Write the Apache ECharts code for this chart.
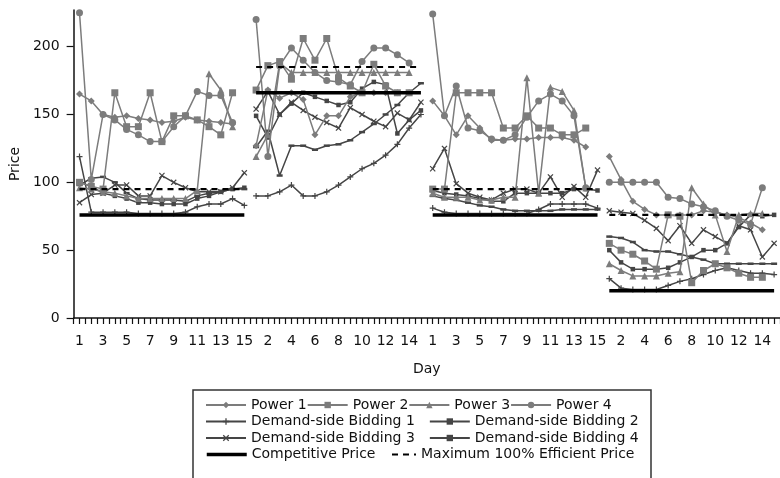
<!DOCTYPE html>
<html><head><meta charset="utf-8">
<script src="https://cdn.jsdelivr.net/npm/echarts@6/dist/echarts.min.js"></script>
<style>html,body{margin:0;padding:0;background:#fff}#c{width:780px;height:478px}</style>
</head><body><div id="c"></div>
<script>
// ---------- data ----------
const blockIds = ['A', 'B', 'C', 'D'];
const days = [1, 2, 3, 4, 5, 6, 7, 8, 9, 10, 11, 12, 13, 14, 15];
const yTicks = [0, 50, 100, 150, 200];

// Power series: days 1-14 of each of the four blocks
const power1 = [
  [165, 160, 150, 148, 149, 147, 146, 144, 145, 148, 146, 145, 144, 143],
  [127, 168, 162, 166, 161, 135, 149, 149, 163, 166, 166, 166, 166, 166],
  [160, 149, 135, 149, 140, 131, 131, 132, 132, 133, 133, 133, 131, 126],
  [119, 102, 86, 80, 76, 76, 76, 76, 79, 78, 76, 74, 70, 65]
];
const power2 = [
  [100, 97, 95, 166, 141, 141, 166, 130, 149, 149, 146, 141, 135, 166],
  [168, 186, 189, 176, 206, 190, 206, 177, 171, 166, 187, 171, 166, 166],
  [95, 95, 166, 166, 166, 166, 140, 140, 149, 140, 140, 135, 135, 140],
  [55, 50, 47, 42, 36, 76, 75, 26, 35, 40, 37, 33, 30, 30]
];
const power3 = [
  [96, 95, 93, 92, 90, 88, 88, 88, 88, 88, 94, 180, 168, 141],
  [119, 135, 188, 181, 181, 181, 181, 181, 181, 181, 181, 181, 181, 181],
  [92, 89, 89, 89, 87, 87, 89, 89, 177, 92, 170, 167, 153, 96],
  [40, 35, 31, 31, 31, 33, 34, 96, 84, 76, 49, 76, 77, 77]
];
const power4 = [
  [225, 102, 150, 146, 139, 135, 130, 130, 141, 149, 167, 164, 164, 144],
  [220, 119, 186, 199, 190, 181, 175, 174, 172, 189, 199, 199, 194, 188],
  [224, 149, 171, 140, 138, 132, 131, 135, 148, 160, 165, 160, 149, 96],
  [100, 100, 100, 100, 100, 89, 88, 84, 82, 79, 75, 72, 69, 96]
];
// Demand-side bidding series: days 1-15 of each block
const dsb1 = [
  [119, 78, 78, 78, 78, 77, 77, 77, 77, 78, 82, 84, 84, 88, 83],
  [90, 90, 93, 98, 90, 90, 93, 98, 104, 110, 114, 120, 128, 140, 150],
  [81, 78, 77, 77, 77, 77, 77, 77, 77, 80, 84, 84, 84, 84, 81],
  [29, 22, 21, 21, 21, 24, 27, 29, 32, 35, 37, 35, 33, 33, 32]
];
const dsb2 = [
  [98, 103, 104, 100, 92, 88, 87, 87, 87, 86, 90, 92, 93, 95, 95],
  [126, 138, 105, 127, 127, 124, 127, 128, 131, 137, 143, 150, 157, 166, 173],
  [90, 88, 87, 85, 83, 82, 80, 79, 79, 79, 79, 80, 80, 80, 80],
  [60, 59, 56, 50, 49, 49, 47, 45, 43, 40, 40, 40, 40, 40, 40]
];
const dsb3 = [
  [85, 91, 92, 98, 98, 90, 90, 105, 100, 96, 93, 93, 93, 96, 107],
  [154, 167, 150, 159, 153, 148, 144, 140, 155, 150, 145, 141, 151, 146, 159],
  [110, 125, 99, 92, 89, 87, 92, 95, 95, 92, 104, 89, 97, 89, 109],
  [79, 78, 77, 72, 66, 57, 68, 55, 65, 60, 55, 68, 65, 45, 55]
];
const dsb4 = [
  [100, 97, 92, 90, 88, 85, 85, 84, 84, 84, 88, 90, 93, 95, 96],
  [149, 133, 150, 158, 166, 163, 160, 157, 159, 169, 174, 172, 136, 146, 153],
  [94, 92, 91, 90, 88, 86, 86, 92, 92, 92, 92, 92, 95, 95, 94],
  [50, 41, 36, 36, 36, 37, 41, 45, 50, 50, 55, 67, 76, 75, 76]
];
// reference prices per block
const competitivePrice = [76, 166, 76, 20];
const maxEfficientPrice = [95, 185, 95, 76];

// ---------- chart ----------
const FONT = 'DejaVu Sans';
const categories = [];
blockIds.forEach(b => days.forEach(d => categories.push(b + '-' + d)));
const N = categories.length;
function place(b, vals) {
  const a = new Array(N).fill(null);
  vals.forEach((v, i) => { a[b * days.length + i] = v; });
  return a;
}
const series = [];
function addSeries(name, blocks, style) {
  blocks.forEach((vals, b) => {
    series.push(Object.assign({
      type: 'line', name: name, data: place(b, vals),
      connectNulls: false, animation: false, silent: true,
      emphasis: { disabled: true }
    }, style));
  });
}
const GRAY = '#7c7c7c', DARK = '#454545';
const plusPath = 'path://M4,0H6V4H10V6H6V10H4V6H0V4H4Z';
const xPath = 'path://M0,1.4L1.4,0L5,3.6L8.6,0L10,1.4L6.4,5L10,8.6L8.6,10L5,6.4L1.4,10L0,8.6L3.6,5Z';
function pStyle(symbol, size) {
  return { symbol: symbol, symbolSize: size, lineStyle: { color: GRAY, width: 1.5 }, itemStyle: { color: GRAY }, z: 3 };
}
function dStyle(symbol, size) {
  return { symbol: symbol, symbolSize: size, lineStyle: { color: DARK, width: 1.5 }, itemStyle: { color: DARK }, z: 2 };
}
addSeries('Power 1', power1, pStyle('diamond', 7));
addSeries('Power 2', power2, pStyle('rect', 7));
addSeries('Power 3', power3, pStyle('triangle', 7));
addSeries('Power 4', power4, pStyle('circle', 7));
addSeries('Demand-side Bidding 1', dsb1, dStyle(plusPath, 6));
addSeries('Demand-side Bidding 2', dsb2, dStyle('rect', [6, 2.5]));
addSeries('Demand-side Bidding 3', dsb3, dStyle(xPath, 6));
addSeries('Demand-side Bidding 4', dsb4, dStyle('rect', 4.5));
addSeries('Competitive Price', competitivePrice.map(v => days.map(() => v)),
  { symbol: 'none', lineStyle: { color: '#000', width: 3.5 }, itemStyle: { color: '#000' }, z: 5 });
addSeries('Maximum 100% Efficient Price', maxEfficientPrice.map(v => days.map(() => v)),
  { symbol: 'none', lineStyle: { color: '#000', width: 2.2, type: [6, 5] }, itemStyle: { color: '#000' }, z: 5 });

const legendText = { fontFamily: FONT, fontSize: 14, color: '#111' };
function legend(data, left, top, gap, w) {
  return { data: data, left: left, top: top, itemGap: gap, itemWidth: w || 40, itemHeight: 8,
    padding: 0, selectedMode: false, textStyle: legendText, orient: 'horizontal' };
}
const hidden = { opacity: 0 };
const option = {
  animation: false,
  backgroundColor: '#fff',
  textStyle: { fontFamily: FONT },
  grid: { left: 73, right: -1, top: 10, bottom: 160, containLabel: false },
  xAxis: [{
    type: 'category', data: categories, boundaryGap: true, position: 'bottom',
    name: 'Day', nameLocation: 'middle', nameGap: 44,
    nameTextStyle: { fontFamily: FONT, fontSize: 14, color: '#111' },
    axisLine: { lineStyle: { color: '#111', width: 1.5 } },
    axisTick: { show: true, interval: 0, length: 6, lineStyle: { color: '#111', width: 1.2 } },
    axisLabel: { interval: 1, margin: 16, fontFamily: FONT, fontSize: 14, color: '#111',
      formatter: v => v.split('-')[1] },
    splitLine: { show: false }
  }, {
    type: 'category', data: categories, boundaryGap: true, position: 'bottom',
    axisLine: { show: false },
    axisTick: { show: true, interval: 0, alignWithLabel: true, length: 6, lineStyle: { color: '#111', width: 1.2 } },
    axisLabel: { show: false }, splitLine: { show: false }
  }],
  yAxis: {
    type: 'value', min: 0, max: 227,
    name: 'Price', nameLocation: 'middle', nameGap: 48, nameRotate: 90,
    nameTextStyle: { fontFamily: FONT, fontSize: 14, color: '#111' },
    axisLine: { show: true, lineStyle: { color: '#111', width: 1.5 } },
    axisTick: { show: true, length: 7, customValues: yTicks, lineStyle: { color: '#111', width: 1.2 } },
    axisLabel: { margin: 14, fontFamily: FONT, fontSize: 14, color: '#111', customValues: yTicks },
    splitLine: { show: false }
  },
  legend: [
    legend(['Power 1', 'Power 2', 'Power 3', 'Power 4'], 205, 398, 0),
    legend(['Demand-side Bidding 1', 'Demand-side Bidding 2'], 205, 414.5, 14),
    legend(['Demand-side Bidding 3', 'Demand-side Bidding 4'], 205, 431, 14),
    legend([{ name: 'Competitive Price', itemStyle: hidden, lineStyle: { width: 3.5 } }], 205, 447.5, 0),
    legend([{ name: 'Maximum 100% Efficient Price', itemStyle: hidden, lineStyle: { width: 2 } }], 391, 447.5, 0, 24)
  ],
  graphic: [{
    type: 'rect', silent: true, z: 100,
    shape: { x: 193, y: 390, width: 458, height: 100 },
    style: { fill: 'none', stroke: '#333', lineWidth: 1.5 }
  }],
  series: series
};
const chart = echarts.init(document.getElementById('c'), null, { renderer: 'canvas' });
chart.setOption(option);
</script>
</body></html>
